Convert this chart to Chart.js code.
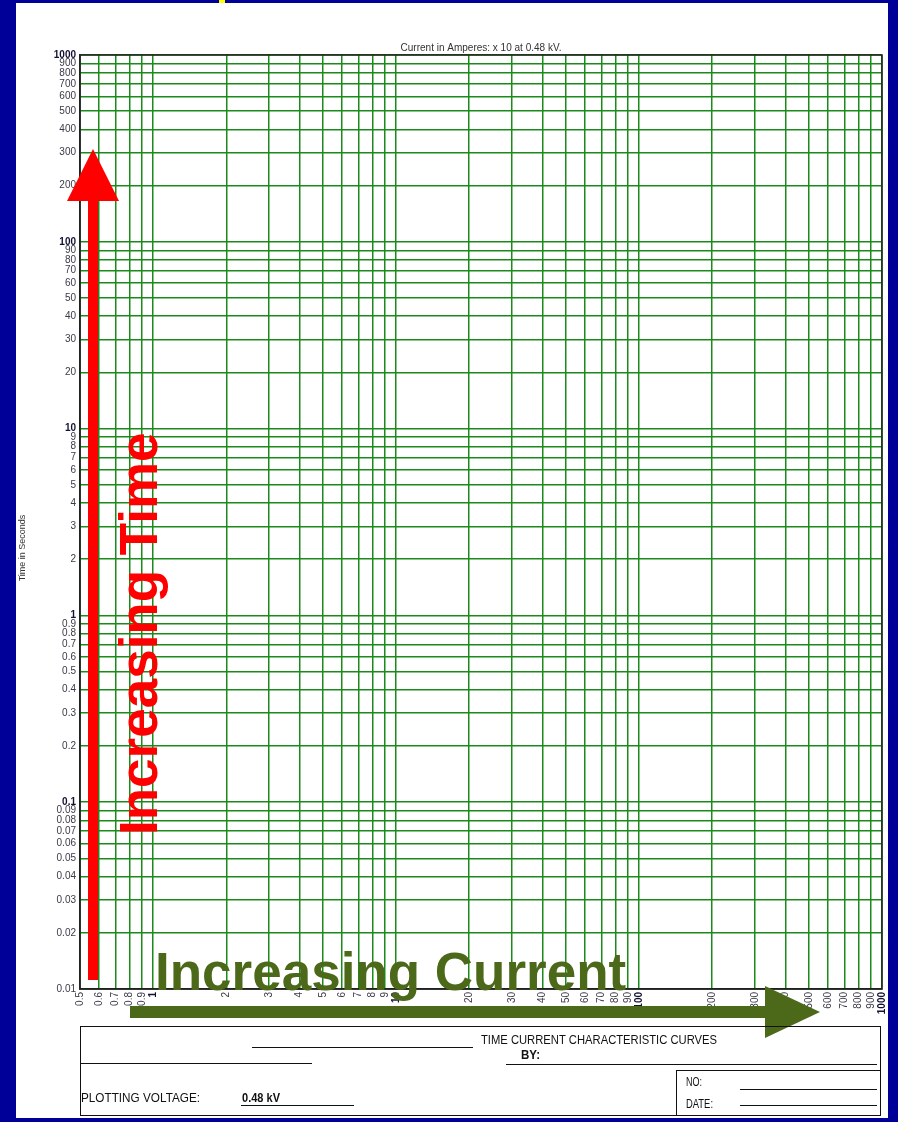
<!DOCTYPE html>
<html>
<head>
<meta charset="utf-8">
<title>Time Current Characteristic Curves</title>
<script src="https://cdn.jsdelivr.net/npm/chart.js@4.4.1/dist/chart.umd.min.js"></script>
<style>
  html, body { margin: 0; padding: 0; background: #000099; }
  #tcc { display: block; }
</style>
</head>
<body>
<canvas id="tcc" width="898" height="1122"></canvas>
<script>
// LOG-LOG PAPER TICKS
const currentTicks = [0.5, 0.6, 0.7, 0.8, 0.9, 1, 2, 3, 4, 5, 6, 7, 8, 9,
  10, 20, 30, 40, 50, 60, 70, 80, 90, 100, 200, 300, 400, 500, 600, 700, 800, 900, 1000];
const timeTicks = [0.01, 0.02, 0.03, 0.04, 0.05, 0.06, 0.07, 0.08, 0.09,
  0.1, 0.2, 0.3, 0.4, 0.5, 0.6, 0.7, 0.8, 0.9, 1, 2, 3, 4, 5, 6, 7, 8, 9,
  10, 20, 30, 40, 50, 60, 70, 80, 90, 100, 200, 300, 400, 500, 600, 700, 800, 900, 1000];
const currentBold = [1, 10, 100, 1000];
const timeBold = [0.1, 1, 10, 100, 1000];

const FONT = '"Liberation Sans", Arial, sans-serif';
const NARROW = '"Liberation Sans Narrow", "Arial Narrow", "Liberation Sans", sans-serif';
const GRID_GREEN = '#1a8a1a';
const ARROW_GREEN = '#4b6919';

function tickFont(boldList) {
  return (ctx) => ({
    family: FONT,
    size: 10,
    weight: ctx.tick && boldList.includes(ctx.tick.value) ? 'bold' : 'normal'
  });
}

function tickColor(boldList) {
  return (ctx) => (ctx.tick && boldList.includes(ctx.tick.value) ? '#111133' : '#3a3a48');
}

function line(ctx, x1, y1, x2, y2) {
  ctx.beginPath();
  ctx.moveTo(x1, y1);
  ctx.lineTo(x2, y2);
  ctx.stroke();
}

// PAGE, ARROWS AND TITLE BLOCK
const paperPlugin = {
  id: 'paper',
  beforeDraw(chart) {
    const { ctx } = chart;
    ctx.save();
    ctx.fillStyle = '#000099';
    ctx.fillRect(0, 0, chart.width, chart.height);
    ctx.fillStyle = '#ffffff';
    ctx.fillRect(16, 3, 872, 1115);
    ctx.fillStyle = '#ffff00';
    ctx.fillRect(219, 0, 6, 3);
    ctx.restore();
  },
  afterDraw(chart) {
    const { ctx, chartArea: a } = chart;
    ctx.save();

    // top and right edges of the plot box
    ctx.strokeStyle = '#222';
    ctx.lineWidth = 1.5;
    ctx.strokeRect(a.left, a.top, a.right - a.left, a.bottom - a.top);

    // axis captions
    ctx.fillStyle = '#333';
    ctx.font = '10px ' + FONT;
    ctx.textAlign = 'center';
    ctx.textBaseline = 'alphabetic';
    ctx.fillText('Current in Amperes: x 10 at 0.48 kV.', (a.left + a.right) / 2, a.top - 4, 183);
    ctx.save();
    ctx.translate(25, 548);
    ctx.rotate(-Math.PI / 2);
    ctx.font = '9px ' + FONT;
    ctx.fillText('Time in Seconds', 0, 0, 78);
    ctx.restore();

    // red arrow: increasing time
    ctx.fillStyle = '#ff0000';
    ctx.fillRect(a.left + 8, 199, 10, a.bottom - 9 - 199);
    ctx.beginPath();
    ctx.moveTo(a.left - 13, 201);
    ctx.lineTo(a.left + 39, 201);
    ctx.lineTo(a.left + 13, 149);
    ctx.closePath();
    ctx.fill();
    ctx.save();
    ctx.translate(157, 835);
    ctx.rotate(-Math.PI / 2);
    ctx.font = 'bold 53px ' + FONT;
    ctx.textAlign = 'left';
    ctx.fillText('Increasing Time', 0, 0);
    ctx.restore();

    // green arrow: increasing current
    ctx.fillStyle = ARROW_GREEN;
    ctx.fillRect(130, 1006, 637, 12);
    ctx.beginPath();
    ctx.moveTo(765, 986);
    ctx.lineTo(765, 1038);
    ctx.lineTo(820, 1012);
    ctx.closePath();
    ctx.fill();
    ctx.font = 'bold 53px ' + FONT;
    ctx.textAlign = 'left';
    ctx.fillText('Increasing Current', 155, 990, 476);

    // title block
    ctx.strokeStyle = '#111';
    ctx.lineWidth = 1;
    ctx.strokeRect(80.5, 1026.5, 800, 89);
    line(ctx, 252, 1047.5, 473, 1047.5);
    line(ctx, 80, 1063.5, 312, 1063.5);
    line(ctx, 506, 1064.5, 877, 1064.5);
    line(ctx, 676.5, 1070, 676.5, 1115);
    line(ctx, 676, 1070.5, 880, 1070.5);
    line(ctx, 740, 1089.5, 877, 1089.5);
    line(ctx, 740, 1105.5, 877, 1105.5);
    line(ctx, 241, 1105.5, 354, 1105.5);

    ctx.fillStyle = '#111';
    ctx.textAlign = 'left';
    ctx.font = '13px ' + NARROW;
    ctx.fillText('TIME CURRENT CHARACTERISTIC CURVES', 481, 1044, 236);
    ctx.fillText('NO:', 686, 1086, 16);
    ctx.fillText('DATE:', 686, 1108, 27);
    ctx.fillText('PLOTTING VOLTAGE:', 81, 1102, 119);
    ctx.font = 'bold 13px ' + NARROW;
    ctx.fillText('BY:', 521, 1059, 19);
    ctx.font = 'bold 12px ' + NARROW;
    ctx.fillText('0.48 kV', 242, 1102, 38);

    ctx.restore();
  }
};

new Chart(document.getElementById('tcc'), {
  type: 'scatter',
  data: { datasets: [{ data: [] }] },
  plugins: [paperPlugin],
  options: {
    responsive: false,
    animation: false,
    devicePixelRatio: 1,
    layout: { padding: { left: 0, top: 55, right: 16, bottom: 0 } },
    plugins: { legend: { display: false }, tooltip: { enabled: false } },
    scales: {
      x: {
        type: 'logarithmic',
        min: currentTicks[0],
        max: currentTicks[currentTicks.length - 1],
        afterBuildTicks: (scale) => { scale.ticks = currentTicks.map((v) => ({ value: v })); },
        afterFit: (scale) => { scale.height = 133; },
        grid: { color: GRID_GREEN, lineWidth: 1.5, drawTicks: false },
        border: { color: '#222', width: 1.5 },
        ticks: {
          autoSkip: false,
          minRotation: 90,
          maxRotation: 90,
          padding: 3,
          font: tickFont(currentBold),
          color: tickColor(currentBold),
          callback: (value) => String(value)
        }
      },
      y: {
        type: 'logarithmic',
        min: timeTicks[0],
        max: timeTicks[timeTicks.length - 1],
        afterBuildTicks: (scale) => { scale.ticks = timeTicks.map((v) => ({ value: v })); },
        afterFit: (scale) => { scale.width = 80; },
        grid: { color: GRID_GREEN, lineWidth: 1.5, drawTicks: false },
        border: { color: '#222', width: 1.5 },
        ticks: {
          autoSkip: false,
          padding: 4,
          font: tickFont(timeBold),
          color: tickColor(timeBold),
          callback: (value) => String(value)
        }
      }
    }
  }
});
</script>
</body>
</html>
